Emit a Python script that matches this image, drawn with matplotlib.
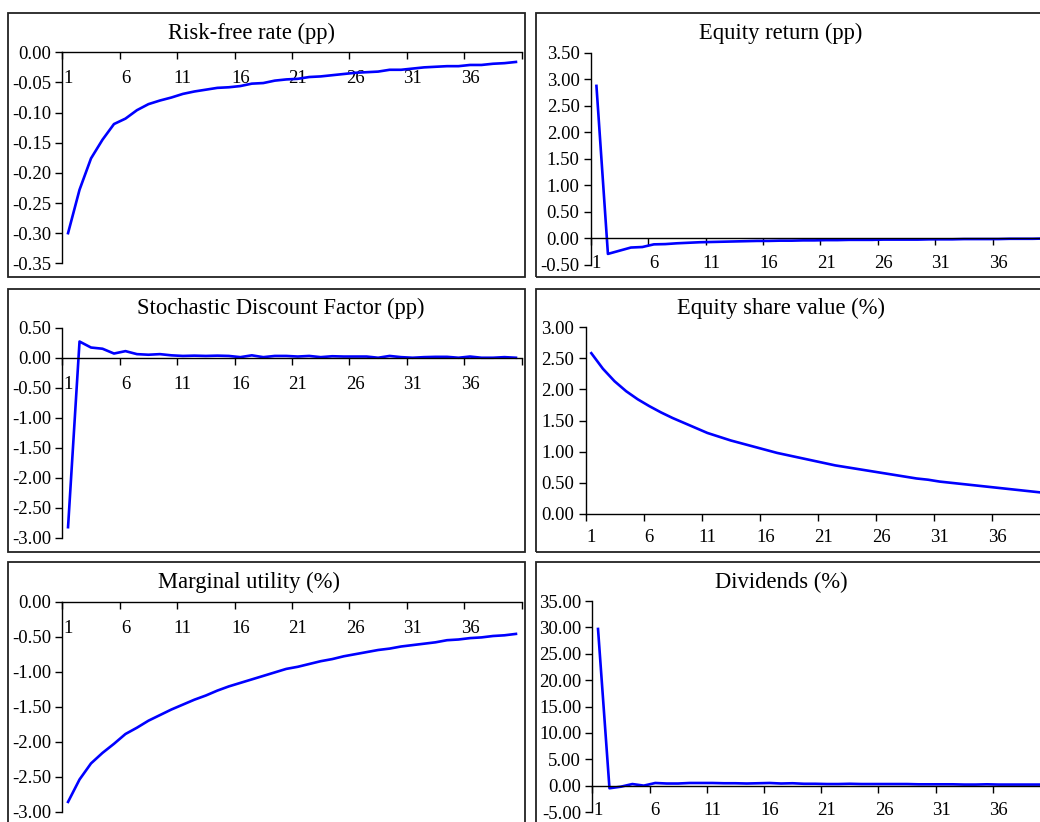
import numpy as np
import matplotlib
matplotlib.use("Agg")
import matplotlib.pyplot as plt
from matplotlib.patches import Rectangle

plt.rcParams["font.family"] = ["Liberation Serif", "DejaVu Serif"]
plt.rcParams["axes.unicode_minus"] = False

periods = np.arange(1, 41)

risk_free = [-0.300, -0.228, -0.176, -0.145, -0.119, -0.110, -0.096, -0.086, -0.080, -0.075,
             -0.069, -0.065, -0.062, -0.059, -0.058, -0.056, -0.052, -0.051, -0.047, -0.045,
             -0.044, -0.041, -0.040, -0.038, -0.036, -0.034, -0.033, -0.032, -0.029, -0.029,
             -0.027, -0.025, -0.024, -0.023, -0.023, -0.021, -0.021, -0.019, -0.018, -0.016]

equity_return = [2.87, -0.30, -0.24, -0.18, -0.17, -0.12, -0.115, -0.10, -0.09, -0.08,
                 -0.075, -0.07, -0.065, -0.06, -0.055, -0.055, -0.05, -0.05, -0.045, -0.045,
                 -0.04, -0.04, -0.035, -0.035, -0.035, -0.03, -0.03, -0.03, -0.03, -0.025,
                 -0.025, -0.025, -0.02, -0.02, -0.02, -0.02, -0.015, -0.015, -0.015, -0.01]

sdf = [-2.82, 0.27, 0.17, 0.15, 0.07, 0.11, 0.06, 0.05, 0.06, 0.04,
       0.03, 0.035, 0.03, 0.035, 0.03, 0.01, 0.04, 0.01, 0.03, 0.03,
       0.02, 0.03, 0.01, 0.025, 0.02, 0.02, 0.02, 0.0, 0.03, 0.01,
       0.0, 0.01, 0.015, 0.015, 0.0, 0.02, 0.0, 0.0, 0.01, 0.0]

equity_value = [2.58, 2.33, 2.13, 1.97, 1.84, 1.73, 1.63, 1.54, 1.46, 1.38,
                1.30, 1.24, 1.18, 1.13, 1.08, 1.03, 0.98, 0.94, 0.90, 0.86,
                0.82, 0.78, 0.75, 0.72, 0.69, 0.66, 0.63, 0.60, 0.57, 0.55,
                0.52, 0.50, 0.48, 0.46, 0.44, 0.42, 0.40, 0.38, 0.36, 0.34]

marginal_utility = [-2.86, -2.54, -2.31, -2.16, -2.03, -1.89, -1.80, -1.70, -1.62, -1.54,
                    -1.47, -1.40, -1.34, -1.27, -1.21, -1.16, -1.11, -1.06, -1.01, -0.96,
                    -0.93, -0.89, -0.85, -0.82, -0.78, -0.75, -0.72, -0.69, -0.67, -0.64,
                    -0.62, -0.60, -0.58, -0.55, -0.54, -0.52, -0.51, -0.49, -0.48, -0.46]

dividends = [29.7, -0.5, -0.2, 0.3, 0.0, 0.5, 0.4, 0.4, 0.5, 0.5,
             0.5, 0.45, 0.45, 0.4, 0.45, 0.5, 0.4, 0.45, 0.35, 0.35,
             0.3, 0.3, 0.35, 0.3, 0.3, 0.3, 0.3, 0.3, 0.25, 0.25,
             0.25, 0.25, 0.2, 0.2, 0.25, 0.2, 0.2, 0.2, 0.2, 0.2]

W, H = 1040, 822
fig = plt.figure(figsize=(W / 100, H / 100), dpi=100)


def px_rect(left, top, right, bottom):
    return [left / W, 1 - bottom / H, (right - left) / W, (bottom - top) / H]


# panel frames (chart borders)
for left, top, right, bottom in [(8.3, 13.3, 525, 276.7), (535.7, 13.3, 1060, 276.7),
                                 (8.3, 289, 525, 552), (535.7, 289, 1060, 552),
                                 (8.3, 562, 525, 840), (535.7, 562, 1060, 840)]:
    x, y, w, h = px_rect(left, top, right, bottom)
    fig.add_artist(Rectangle((x, y), w, h, transform=fig.transFigure,
                             fill=False, lw=1.3, ec="#222222"))

panels = [
    # title, data, ylim, step, axes rect (px), title centre (px), labels low
    ("Risk-free rate (pp)", risk_free, (-0.35, 0.0), 0.05, (62.3, 52.3, 521.7, 263.3), (252, 33), False),
    ("Equity return (pp)", equity_return, (-0.5, 3.5), 0.5, (590.7, 52.5, 1050, 264.5), (781, 33), True),
    ("Stochastic Discount Factor (pp)", sdf, (-3.0, 0.5), 0.5, (62.3, 327.7, 521.7, 538), (281, 308), False),
    ("Equity share value (%)", equity_value, (0.0, 3.0), 0.5, (585.5, 327, 1050, 514), (781, 308), False),
    ("Marginal utility (%)", marginal_utility, (-3.0, 0.0), 0.5, (62.3, 601.7, 521.7, 811.7), (249, 582), False),
    ("Dividends (%)", dividends, (-5.0, 35.0), 5.0, (592.3, 601, 1050, 812), (781, 582), True),
]

for title, values, ylim, step, rect, tpos, low in panels:
    ax = fig.add_axes(px_rect(*rect))
    ax.plot(periods, values, color="#0000ff", lw=1.9, solid_joinstyle="round")
    ax.set_xlim(0.5, 40.5)
    ax.set_ylim(*ylim)
    yt = np.round(np.arange(ylim[0], ylim[1] + step / 2, step), 2) + 0.0
    ax.set_yticks(yt)
    ax.set_yticklabels([f"{abs(v):.2f}" if abs(v) < 1e-9 else f"{v:.2f}" for v in yt])
    ax.tick_params(axis="y", direction="out", length=5, width=1, pad=3, labelsize=13.5)

    ax.spines["right"].set_visible(False)
    ax.spines["left"].set_linewidth(1)

    ax.set_xticks(np.arange(0.5, 41, 5))
    ax.set_xticks(np.arange(1, 40, 5), minor=True)
    ax.set_xticklabels([str(v) for v in range(1, 40, 5)], minor=True)
    ax.tick_params(axis="x", which="minor", length=0, labelsize=13.5)

    if low:
        # category axis crosses at zero, labels sit at the bottom
        ax.spines["top"].set_position(("data", 0))
        ax.spines["top"].set_linewidth(1)
        ax.spines["bottom"].set_visible(False)
        ax.tick_params(axis="x", which="major", top=True, bottom=False,
                       labeltop=False, labelbottom=False, direction="in", length=5, width=1)
        ax.tick_params(axis="x", which="minor", pad=-7)
    else:
        ax.spines["top"].set_visible(False)
        ax.spines["bottom"].set_position(("data", 0))
        ax.spines["bottom"].set_linewidth(1)
        ax.tick_params(axis="x", which="major", direction="out", length=5, width=1,
                       labelbottom=False)
        pad = 11 if ylim[0] == 0 else 13
        ax.tick_params(axis="x", which="minor", pad=pad)

    fig.text(tpos[0] / W, 1 - tpos[1] / H, title, ha="center", va="center", fontsize=16.3)

fig.savefig("out.png", dpi=100)
